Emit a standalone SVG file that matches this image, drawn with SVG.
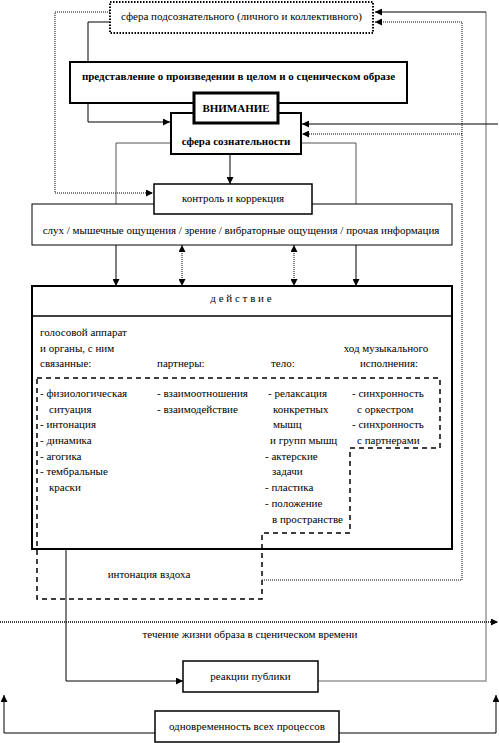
<svg xmlns="http://www.w3.org/2000/svg" width="499" height="743" viewBox="0 0 499 743">
<style>
text{font-family:"Liberation Serif","Times New Roman",serif;font-size:11px;fill:#000}
.b{font-weight:bold}
.m{text-anchor:middle}
.box{fill:#fff;stroke:#000}
.ln{fill:none;stroke:#000;stroke-width:1}
.gl{fill:none;stroke:#555;stroke-width:1}
.dt{fill:none;stroke:#000;stroke-width:1;stroke-dasharray:1 1}
</style>
<defs>
<marker id="a" viewBox="0 0 8 8" refX="8" refY="4" markerWidth="7" markerHeight="7" markerUnits="userSpaceOnUse" orient="auto-start-reverse">
<path d="M0,0 L8,4 L0,8 z" fill="#000"/>
</marker>
</defs>
<rect width="499" height="743" fill="#fff"/>
<g id="connectors">
<path class="dt" d="M110,12 H55 V193 H153" marker-end="url(#a)"/>
<path class="ln" d="M110,22 H88 V62"/>
<path class="ln" d="M88,103 V122 H170" marker-end="url(#a)"/>
<path d="M486,12 V681 H318" fill="none" stroke="#999" stroke-width="1.5"/>
<path class="ln" d="M486,12 H375" marker-end="url(#a)"/>
<path class="dt" d="M462,22 H375" marker-end="url(#a)" stroke="#444"/>
<path class="dt" d="M262,580 H462 V22" stroke="#444"/>
<path class="ln" d="M498,124 H302" marker-end="url(#a)"/>
<path class="dt" d="M462,134 H302" marker-end="url(#a)"/>
<path class="gl" d="M171,143 H116 V204"/>
<path class="gl" d="M301,143 H356 V204"/>
<path class="ln" d="M230,154 V184" marker-end="url(#a)"/>
<path class="ln" d="M116,245 V286" marker-end="url(#a)"/>
<path class="ln" d="M356,245 V286" marker-end="url(#a)"/>
<path class="dt" d="M182,245 V286" marker-start="url(#a)" marker-end="url(#a)"/>
<path class="dt" d="M294,245 V286" marker-start="url(#a)" marker-end="url(#a)"/>
<path class="ln" d="M66,549 V681 H183" marker-end="url(#a)"/>
<path d="M0,622 H498" fill="none" stroke="#000" stroke-width="1.5" stroke-dasharray="1 1" marker-end="url(#a)"/>
<path class="ln" d="M155,733 H4 V695" marker-end="url(#a)"/>
<path class="ln" d="M339,733 H496 V695" marker-end="url(#a)"/>
</g>
<g id="subconscious">
<rect x="110" y="2" width="263" height="31" fill="#fff" stroke="#000" stroke-width="2" stroke-dasharray="1.5 1.5"/>
<text class="m" x="241.5" y="20">сфера подсознательного (личного и коллективного)</text>
</g>
<g id="representation">
<rect class="box" x="70" y="62" width="337" height="41" stroke-width="2"/>
<text class="b m" x="238.5" y="80">представление о произведении в целом и о сценическом образе</text>
</g>
<g id="consciousness">
<rect class="box" x="171" y="113" width="130" height="41" stroke-width="2"/>
<text class="b m" x="236" y="145">сфера сознательности</text>
</g>
<g id="attention">
<rect class="box" x="194" y="93" width="84" height="30" stroke-width="3"/>
<text class="b m" x="236" y="112">ВНИМАНИЕ</text>
</g>
<g id="senses">
<rect class="box" x="32" y="204" width="420" height="41" stroke-width="1"/>
<text class="m" x="241" y="234">слух / мышечные ощущения / зрение / вибраторные ощущения / прочая информация</text>
</g>
<g id="control">
<rect class="box" x="154" y="184" width="158" height="30" stroke-width="1.5"/>
<text class="m" x="233" y="202">контроль и коррекция</text>
</g>
<g id="action">
<rect class="box" x="32" y="286" width="420" height="263" stroke-width="2"/>
<line x1="32" y1="316" x2="452" y2="316" stroke="#000" stroke-width="1.5"/>
<text class="m" x="241" y="302">д е й с т в и е</text>
<text x="40" y="336">голосовой аппарат</text>
<text x="40" y="352">и органы, с ним</text>
<text x="40" y="367">связанные:</text>
<text x="157" y="367">партнеры:</text>
<text x="271" y="367">тело:</text>
<text class="m" x="386" y="352">ход музыкального</text>
<text class="m" x="389" y="367">исполнения:</text>
<path d="M37,378 H440 V448 H350 V533 H262 V599 H37 Z" fill="none" stroke="#000" stroke-width="1.5" stroke-dasharray="5 4"/>
<text x="40" y="397">- физиологическая</text>
<text x="49" y="413">ситуация</text>
<text x="40" y="428">- интонация</text>
<text x="40" y="444">- динамика</text>
<text x="40" y="460">- агогика</text>
<text x="40" y="475">- тембральные</text>
<text x="49" y="491">краски</text>
<text x="157" y="397">- взаимоотношения</text>
<text x="157" y="413">- взаимодействие</text>
<text x="268" y="397">- релаксация</text>
<text x="273" y="413">конкретных</text>
<text x="273" y="428">мышц</text>
<text x="270" y="444">и групп мышц</text>
<text x="265" y="460">- актерские</text>
<text x="272" y="475">задачи</text>
<text x="265" y="491">- пластика</text>
<text x="265" y="507">- положение</text>
<text x="272" y="523">в пространстве</text>
<text x="352" y="397">- синхронность</text>
<text x="357" y="413">с оркестром</text>
<text x="352" y="428">- синхронность</text>
<text x="357" y="444">с партнерами</text>
<text class="m" x="149" y="578">интонация вздоха</text>
</g>
<g id="timeline">
<text class="m" x="250" y="638">течение жизни образа в сценическом времени</text>
</g>
<g id="audience">
<rect class="box" x="183" y="661" width="135" height="31" stroke-width="1.5"/>
<text class="m" x="250.5" y="680">реакции публики</text>
</g>
<g id="simultaneity">
<rect class="box" x="155" y="711" width="184" height="31" stroke-width="1.5"/>
<text class="m" x="247" y="730">одновременность всех процессов</text>
</g>
</svg>
